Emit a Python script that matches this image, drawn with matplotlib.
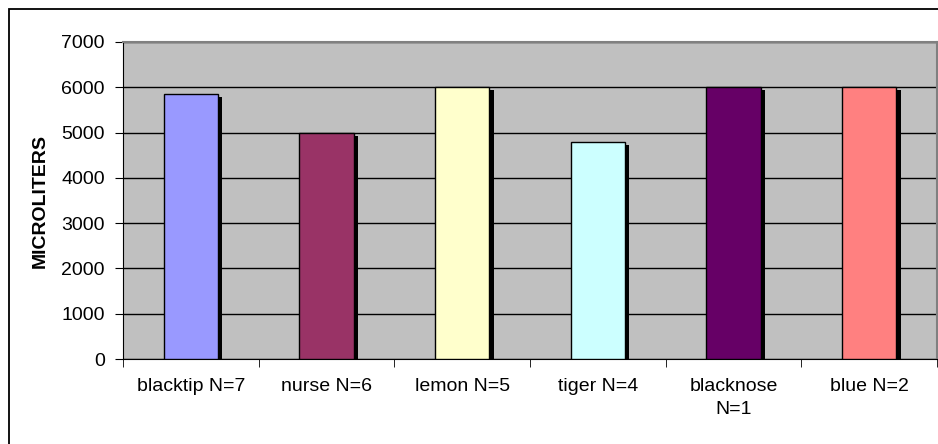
import matplotlib.pyplot as plt
from matplotlib.patches import Rectangle
from matplotlib.transforms import ScaledTranslation

# shark species and volume (microliters)
species = ["blacktip N=7", "nurse N=6", "lemon N=5", "tiger N=4", "blacknose\nN=1", "blue N=2"]
volumes = [5860, 5000, 6000, 4800, 6000, 6000]
bar_colors = ["#9999FF", "#993366", "#FFFFCC", "#CCFFFF", "#660066", "#FF8080"]
y_ticks = [0, 1000, 2000, 3000, 4000, 5000, 6000, 7000]

plt.rcParams["font.family"] = ["Liberation Sans", "DejaVu Sans"]

fig = plt.figure(figsize=(9.38, 4.44), dpi=100)
ax = fig.add_axes([123 / 938, 1 - 359 / 444, 814 / 938, 317 / 444])
ax.set_facecolor("#C0C0C0")

x = list(range(len(species)))

# drop shadow behind each bar
shadow = ax.transData + ScaledTranslation(0.045, -0.03, fig.dpi_scale_trans)
ax.bar(x, volumes, width=0.4, color="black", linewidth=0, transform=shadow, zorder=2)
ax.bar(x, volumes, width=0.4, color=bar_colors, edgecolor="black", linewidth=1, zorder=3)

ax.set_xlim(-0.5, len(species) - 0.5)
ax.set_ylim(0, 7000)
ax.set_yticks(y_ticks)
ax.yaxis.grid(True, color="black", linewidth=1)
ax.set_axisbelow(True)

ax.set_xticks(x)
ax.set_xticklabels(species, fontsize=14, linespacing=1.45)
ax.tick_params(axis="x", length=0, pad=14)
ax.set_xticks([i - 0.5 for i in range(len(species) + 1)], minor=True)
ax.tick_params(axis="x", which="minor", length=6, direction="out", color="black")
ax.tick_params(axis="y", length=6, direction="out", labelsize=14, pad=7)

for s in ["left", "bottom"]:
    ax.spines[s].set_color("black")
for s in ["top", "right"]:
    ax.spines[s].set_color("#808080")
    ax.spines[s].set_linewidth(1.5)

ax.set_ylabel("MICROLITERS", fontsize=14, fontweight="bold")
ax.yaxis.set_label_coords(-0.091, 0.5)

# chart border
fig.add_artist(Rectangle((8.5 / 938, -0.1), 2, 1.1 - 9.5 / 444, transform=fig.transFigure,
                         fill=False, edgecolor="black", linewidth=1.3))

fig.savefig("out.png", dpi=100)
